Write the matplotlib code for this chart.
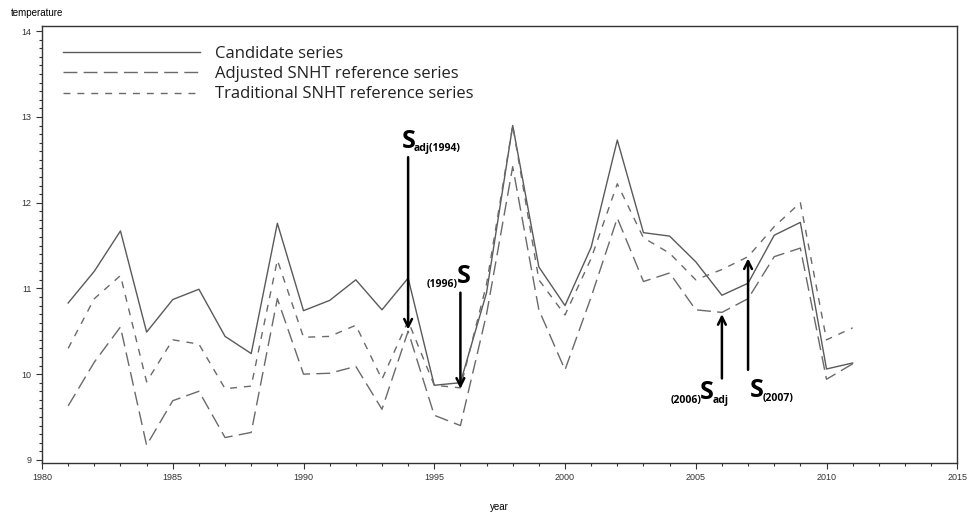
import matplotlib
matplotlib.use("Agg")
import matplotlib.pyplot as plt
from matplotlib.ticker import MultipleLocator

years = list(range(1981, 2012))
candidate = [10.83, 11.20, 11.67, 10.49, 10.87, 10.99, 10.44, 10.24, 11.76, 10.74,
             10.86, 11.10, 10.75, 11.12, 9.87, 9.90, 10.95, 12.90, 11.25, 10.80,
             11.48, 12.73, 11.65, 11.61, 11.31, 10.92, 11.06, 11.62, 11.77, 10.06, 10.13]
adjusted = [9.63, 10.14, 10.55, 9.17, 9.69, 9.80, 9.26, 9.32, 10.88, 10.00,
            10.01, 10.09, 9.59, 10.50, 9.52, 9.40, 10.70, 12.42, 10.75, 10.05,
            10.90, 11.82, 11.08, 11.18, 10.75, 10.72, 10.88, 11.37, 11.47, 9.94, 10.12]
traditional = [10.30, 10.88, 11.15, 9.91, 10.40, 10.35, 9.83, 9.86, 11.33, 10.43,
               10.44, 10.57, 9.94, 10.62, 9.87, 9.84, 11.05, 12.90, 11.10, 10.69,
               11.35, 12.22, 11.59, 11.41, 11.10, 11.22, 11.37, 11.72, 12.00, 10.40, 10.54]
series_labels = ["Candidate series", "Adjusted SNHT reference series",
                 "Traditional SNHT reference series"]

# annotations: prefix subscript, suffix subscript, arrow year, arrow from/to values
mark_pre = ["", "(1996)", "(2006)", ""]
mark_sub = ["adj(1994)", "", "adj", "(2007)"]
mark_year = [1994, 1996, 2006, 2007]
arrow_from = [12.53, 10.95, 9.95, 10.05]
arrow_to = [10.52, 9.83, 10.70, 11.35]
s_pos = [(1993.75, 12.64), (1995.85, 11.06), (2005.15, 9.71), (2007.08, 9.73)]

plt.rcParams["font.family"] = ["Open Sans", "DejaVu Sans"]

fig = plt.figure(figsize=(9.68, 5.16), dpi=100)
ax = fig.add_axes([0.0434, 0.103, 0.9455, 0.8465])

line_col = "#6a6a6a"
ax.plot(years, candidate, color="#5a5a5a", lw=1.0, ls="-", label=series_labels[0])
ax.plot(years, adjusted, color=line_col, lw=1.0, ls=(0, (10, 4.5)), label=series_labels[1])
ax.plot(years, traditional, color=line_col, lw=1.0, ls=(0, (5, 5)), label=series_labels[2])

ax.set_xlim(1980, 2015)
ax.set_ylim(8.965, 14.06)
ax.xaxis.set_major_locator(MultipleLocator(5))
ax.xaxis.set_minor_locator(MultipleLocator(1))
ax.yaxis.set_major_locator(MultipleLocator(1))
ax.yaxis.set_minor_locator(MultipleLocator(0.1))
ax.tick_params(which="both", direction="out", colors="#333333", labelsize=6.5, width=0.8)
ax.tick_params(which="major", length=4)
ax.tick_params(which="minor", length=2)
for lab in ax.get_xticklabels() + ax.get_yticklabels():
    lab.set_fontfamily("Liberation Sans")
for sp in ax.spines.values():
    sp.set_color("#333333")
    sp.set_linewidth(1.0)

fig.text(0.011, 0.975, "temperature", fontsize=7, family="Liberation Sans", ha="left", va="center")
ax.set_xlabel("year", fontsize=7, family="Liberation Sans", labelpad=14)

leg = ax.legend(loc="upper left", bbox_to_anchor=(0.012, 0.978), frameon=False, fontsize=12,
                handlelength=8.2, handletextpad=0.9, labelspacing=0.26, borderaxespad=0.2)
for t in leg.get_texts():
    t.set_color("#222222")

for pre, sub, yr, y0, y1, (sx, sy) in zip(mark_pre, mark_sub, mark_year,
                                           arrow_from, arrow_to, s_pos):
    ax.annotate("", xy=(yr, y1), xytext=(yr, y0),
                arrowprops=dict(arrowstyle="->", color="black", lw=1.8,
                                mutation_scale=14, shrinkA=0, shrinkB=0))
    s = ax.text(sx, sy, "S", fontsize=18, fontweight="bold", ha="left", va="baseline",
                color="black")
    if sub:
        ax.annotate(sub, xy=(1, 0), xycoords=s, xytext=(-1.0, -0.5), textcoords="offset points",
                    fontsize=7.5, fontweight="bold", ha="left", va="bottom", color="black")
    if pre:
        ax.annotate(pre, xy=(0, 0), xycoords=s, xytext=(1.0, -0.5), textcoords="offset points",
                    fontsize=7.5, fontweight="bold", ha="right", va="bottom", color="black")

fig.savefig("out.png", dpi=100)
plt.close(fig)
